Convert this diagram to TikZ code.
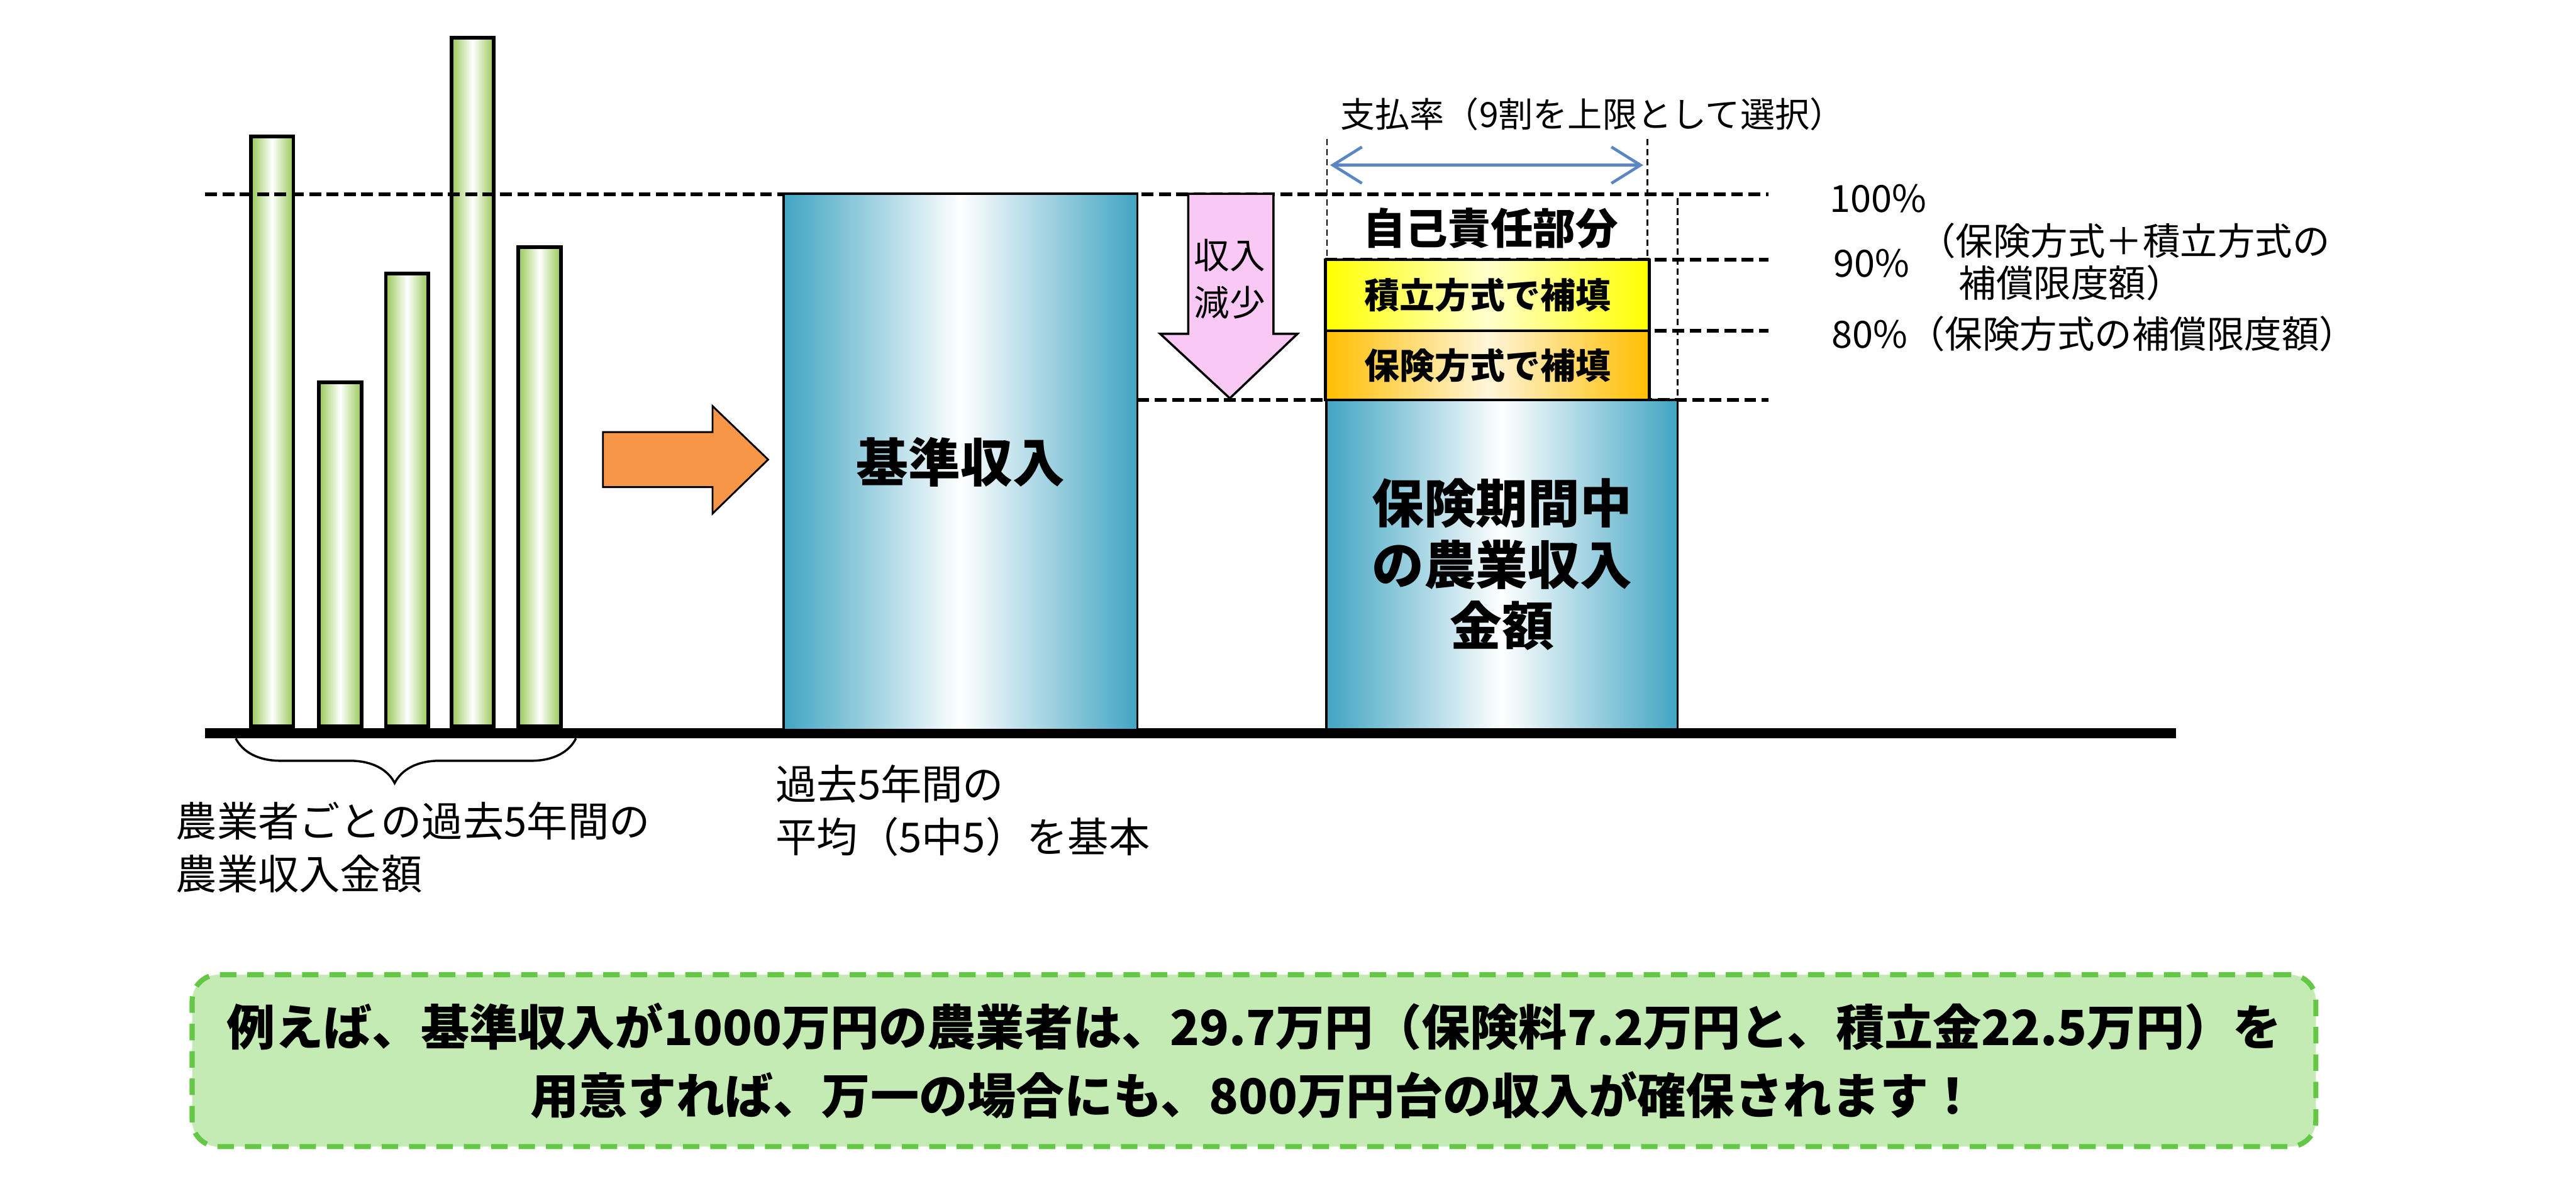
\documentclass[tikz,border=0pt]{standalone}
\usepackage{fontspec}
\setmainfont{Noto Sans CJK JP}
\usetikzlibrary{arrows.meta, positioning, calc, decorations.pathreplacing}
\definecolor{barGreen}{RGB}{150,200,85}
\definecolor{tealBox}{RGB}{65,165,195}
\definecolor{arrowOrange}{RGB}{247,150,70}
\definecolor{dropPink}{RGB}{250,200,245}
\definecolor{fundYellow}{RGB}{255,255,0}
\definecolor{insOrange}{RGB}{255,190,0}
\definecolor{rangeBlue}{RGB}{90,135,195}
\definecolor{noteFill}{RGB}{197,235,180}
\definecolor{noteDash}{RGB}{100,200,70}

\begin{document}
\begin{tikzpicture}[
    bar/.style={draw=black, line width=2pt, left color=barGreen, right color=barGreen, middle color=white, minimum width=0.82cm, inner sep=0pt, anchor=south},
    tealbox/.style={draw=black, line width=1.2pt, left color=tealBox, right color=tealBox, middle color=white, inner sep=0pt, align=center, font=\fontsize{28.5}{33.6}\selectfont\bfseries},
    fundbox/.style={draw=black, line width=1.6pt, inner sep=0pt, minimum width=6.24cm, font=\fontsize{19.3}{22}\selectfont\bfseries},
    level/.style={line width=2pt, dash pattern=on 6.5pt off 3pt},
    guide/.style={line width=0.8pt, dash pattern=on 3.5pt off 2pt},
    lbl/.style={inner sep=0pt, font=\fontsize{20.5}{26}\selectfont},
    caption/.style={inner sep=0pt, align=left, anchor=west, font=\fontsize{22.5}{28.8}\selectfont}
  ]
  \useasboundingbox (0,0) rectangle (49.6,-22.93);
  \fill[white] (0,0) rectangle (49.6,-22.93);

  % past five years, one bar per year
  \foreach \x/\h [count=\i] in {5.24/11.36, 6.55/6.62, 7.84/8.72, 9.10/13.26, 10.39/9.23}
    \node[bar, minimum height=\h cm] (bar\i) at (\x,-14.02) {};

  % levels 100% / 90% / 80% / actual
  \draw[level] (3.95,-3.74) -- (34.05,-3.74);
  \draw[level] (25.52,-5.00) -- (34.05,-5.00);
  \draw[level] (25.52,-6.37) -- (34.05,-6.37);
  \draw[level] (21.90,-7.70) -- (34.05,-7.70);

  % axis
  \coordinate (axisL) at (3.95,-14.12);
  \coordinate (axisR) at (41.90,-14.12);
  \draw[line width=0.2cm] (axisL) -- (axisR);

  % brace under the bars
  \coordinate (braceL) at (4.54,-14.22);
  \coordinate (braceR) at (11.09,-14.22);
  \draw[decorate, decoration={brace, mirror, amplitude=0.86cm, aspect=0.467}, line width=1.2pt] (braceL) -- (braceR);
  \node[caption] (pastLbl) at (3.38,-16.32) {農業者ごとの過去5年間の\\農業収入金額};

  % orange arrow
  \filldraw[fill=arrowOrange, draw=black, line width=1pt]
    (11.61,-8.32) -- (13.72,-8.32) -- (13.72,-7.82) -- (14.79,-8.85)
    -- (13.72,-9.89) -- (13.72,-9.38) -- (11.61,-9.38) -- cycle;

  % standard income
  \node[tealbox, minimum width=6.81cm, minimum height=10.33cm] (base) at (18.495,-8.895) {基準収入};
  \node[caption, font=\fontsize{22.5}{29}\selectfont] (baseLbl) at (14.93,-15.61) {過去5年間の\\平均（5中5）を基本};

  % income drop
  \filldraw[fill=dropPink, draw=black, line width=1.2pt]
    (22.88,-3.73) -- (24.52,-3.73) -- (24.52,-6.43) -- (24.98,-6.43)
    -- (23.68,-7.67) -- (22.34,-6.43) -- (22.88,-6.43) -- cycle;
  \node[inner sep=0pt, align=center, font=\fontsize{19.5}{25.9}\selectfont] (drop) at (23.68,-5.37) {収入\\減少};

  % payment rate range
  \draw[guide] (25.55,-2.68) -- (25.55,-4.97);
  \draw[guide] (31.72,-2.68) -- (31.72,-5.00);
  \draw[guide] (32.30,-3.82) -- (32.30,-7.70);
  \coordinate (payL) at (25.61,-3.18);
  \coordinate (payR) at (31.64,-3.18);
  \draw[rangeBlue, line width=1.6pt, {Straight Barb[length=0.56cm, width=0.7cm]}-{Straight Barb[length=0.56cm, width=0.7cm]}] (payL) -- (payR);
  \node[lbl, font=\fontsize{19pt}{24}\selectfont] (payLbl) at (30.66,-2.20) {支払率（9割を上限として選択）};

  % compensation layers
  \node[inner sep=0pt, font=\fontsize{23.3}{27}\selectfont\bfseries] (self) at (28.70,-4.40) {自己責任部分};
  \node[fundbox, minimum height=1.37cm, left color=fundYellow, right color=fundYellow, middle color=fundYellow!20] (fund) at (28.64,-5.685) {積立方式で補填};
  \node[fundbox, minimum height=1.33cm, left color=insOrange, right color=insOrange, middle color=insOrange!15] (ins) at (28.64,-7.035) {保険方式で補填};
  \node[tealbox, minimum width=6.76cm, minimum height=6.34cm] (actual) at (28.92,-10.87) {保険期間中\\の農業収入\\金額};

  % level labels
  \node[lbl, anchor=west] (p100) at (35.22,-3.82) {100\%};
  \node[lbl, anchor=west] (p90) at (35.30,-5.07) {90\%};
  \node[lbl, anchor=west] (p90a) at (36.93,-4.64) {（保険方式＋積立方式の};
  \node[lbl, anchor=west] (p90b) at (37.71,-5.45) {補償限度額）};
  \node[lbl, anchor=west] (p80) at (35.26,-6.43) {80\%（保険方式の補償限度額）};

  % example note
  \node[draw=noteDash, fill=noteFill, line width=2.8pt, dash pattern=on 9pt off 6pt, rounded corners=0.5cm,
        minimum width=40.89cm, minimum height=3.31cm, align=center, font=\fontsize{26.6}{37.6}\selectfont\bfseries]
    (note) at (24.145,-20.425)
    {例えば、基準収入が1000万円の農業者は、29.7万円（保険料7.2万円と、積立金22.5万円）を\\用意すれば、万一の場合にも、800万円台の収入が確保されます！};
\end{tikzpicture}
\end{document}
